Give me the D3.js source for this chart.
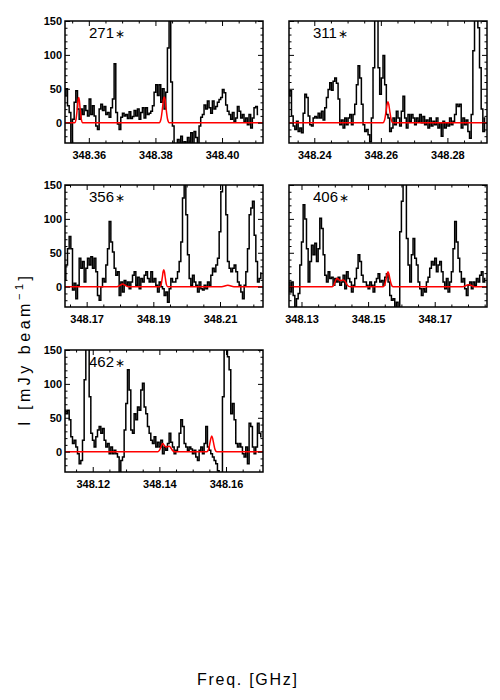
<!DOCTYPE html>
<html><head><meta charset="utf-8">
<script src="https://cdn.jsdelivr.net/npm/d3@7"></script>
<style>body{margin:0;background:#fff}svg{display:block}</style>
</head><body><svg id="c" width="500" height="700"></svg>
<script>
// ---------------- DATA ----------------
const sources = ["271", "311", "356", "406", "462"];
const chanWidth = 0.0005; // GHz per channel
const firstChan = [348.35285, 348.2324, 348.1635, 348.12625, 348.11168];
const xDomains = [
  [348.35285, 348.4123], [348.2324, 348.2919], [348.1635, 348.2229],
  [348.12625, 348.1857], [348.11168, 348.1711]
];
const xTickLabels = [
  [348.36, 348.38, 348.40], [348.24, 348.26, 348.28], [348.17, 348.19, 348.21],
  [348.13, 348.15, 348.17], [348.12, 348.14, 348.16]
];
const yDomain = [-30, 150];
const yTickValues = [0, 50, 100, 150];

const flux271 = [40,50,25,15,-35,5,30,47,20,5,20,12,25,18,10,35,12,25,10,-5,-10,20,27,18,24,12,15,8,22,35,87,15,-2,-10,8,14,10,12,6,16,6,9,18,10,20,5,15,22,7,22,12,14,17,25,45,56,40,56,30,50,20,45,110,160,60,-5,-40,-40,-25,-35,-20,-40,-28,-40,-22,-32,-15,-40,-13,-22,-40,-5,8,12,26,20,32,22,14,32,20,24,30,34,37,49,44,26,17,12,5,15,2,7,24,17,7,12,2,7,-3,12,-8,7,22,24,12];
const flux311 = [40,47,10,-5,-10,2,-13,-8,-15,14,42,37,10,-3,-5,7,9,7,14,7,17,4,22,37,49,59,48,61,66,58,35,-3,4,-8,7,-3,7,12,-3,12,27,56,84,66,27,-3,-13,-10,-18,-28,7,81,165,160,81,42,66,99,56,12,7,-13,-8,7,-3,17,7,-5,17,39,7,-8,12,2,12,7,-3,7,2,12,0,9,-3,4,-8,7,-5,2,-3,7,-8,0,-20,2,-8,0,-5,7,-3,2,12,27,24,27,-8,7,-3,4,-13,-23,12,106,165,165,140,81,20,-13,7];
const flux356 = [10,32,56,74,56,-5,5,-18,2,42,27,37,7,27,42,32,44,27,42,22,-13,-20,0,12,7,32,56,96,66,51,27,17,22,-13,7,-8,9,2,7,-3,7,17,22,2,14,-3,12,7,17,22,12,7,22,7,12,2,-8,7,0,-3,-13,-8,-23,-3,12,7,7,12,22,37,66,131,170,106,47,12,2,17,7,2,-8,7,-3,-5,2,-3,7,2,17,27,22,32,42,81,140,170,170,106,37,27,22,27,32,22,7,2,-8,-18,2,22,56,106,116,126,76,37,7,12,20];
const flux406 = [7,-8,7,-13,-30,-18,-10,32,66,121,100,56,7,37,61,47,64,37,56,101,86,47,17,7,22,12,14,2,12,7,14,2,7,17,-3,22,12,7,-8,2,12,27,47,37,17,7,7,2,-3,7,2,-8,7,12,19,7,9,2,14,19,7,-13,-20,-18,-35,-23,-35,81,126,170,170,71,32,7,47,71,42,32,7,-3,-13,-3,-8,7,14,27,37,32,42,22,32,37,22,7,-3,12,-8,7,22,56,96,66,42,22,7,12,-3,-13,2,7,-3,7,2,12,7,17,22,7,12];
const flux462 = [61,56,61,47,22,12,17,7,-3,-18,-13,17,106,170,170,81,27,17,7,22,32,37,27,34,17,7,12,-3,7,-3,2,-3,-8,-35,-13,-8,32,71,121,91,32,27,56,47,66,61,91,101,66,56,37,27,17,12,22,7,14,7,17,-3,7,2,12,27,14,7,-3,2,7,27,47,37,12,7,2,7,4,-3,2,-8,-13,2,7,-3,12,37,7,2,-3,-8,-13,-18,-28,-35,-35,81,160,170,140,121,56,71,47,12,7,12,7,-3,-8,7,-18,42,37,7,-3,7,42,27,22];

// Gaussian-fit model (red), read as [freq, mJy/beam] points
const model271 = [[348.35576,0],[348.35616,5],[348.35656,22],[348.35676,33],[348.35696,37],[348.35716,33],[348.35736,22],[348.35776,5],[348.35816,0],
  [348.38115,0],[348.38165,5],[348.38215,23],[348.3824,34],[348.38265,38],[348.3829,34],[348.38315,23],[348.38365,5],[348.38415,0]];
const model311 = [[348.26063,0],[348.26113,4],[348.26163,19],[348.26188,27],[348.26213,31],[348.26238,27],[348.26263,19],[348.26313,4],[348.26363,0]];
const model356 = [[348.1790,0],[348.1802,2.5],[348.1808,4],[348.1814,2.5],[348.1826,0],
  [348.19193,0],[348.19233,3],[348.19273,15],[348.19293,22],[348.19313,25],[348.19333,22],[348.19353,15],[348.19393,3],[348.19433,0],
  [348.2105,0],[348.21235,2],[348.2142,0]];
const model406 = [[348.1392,0],[348.1397,2],[348.14016,8],[348.14066,12.5],[348.14116,10.5],[348.14166,9],[348.14217,9.5],[348.14267,10],[348.14317,7.5],[348.14367,3],[348.14417,0.5],[348.1447,0],
  [348.15448,0],[348.15498,3],[348.15548,13],[348.15573,19],[348.15598,22],[348.15623,19],[348.15648,13],[348.15698,3],[348.15748,0],
  [348.1784,0],[348.1796,2],[348.1802,3],[348.1808,2],[348.182,0]];
const model462 = [[348.13951,0],[348.14001,2],[348.14051,7.5],[348.14101,12],[348.14151,9],[348.14201,7],[348.14251,7.5],[348.14301,8],[348.14351,5],[348.14401,1.5],[348.14451,0],
  [348.15422,0],[348.15472,3],[348.15522,14],[348.15547,20],[348.15572,23],[348.15597,20],[348.15622,14],[348.15672,3],[348.15722,0]];

const fluxes = [flux271, flux311, flux356, flux406, flux462];
const models = [model271, model311, model356, model406, model462];

// ---------------- LAYOUT ----------------
const boxes = [{x:65,y:21},{x:289,y:21},{x:65,y:185},{x:289,y:185},{x:65,y:350}];
const W = 198, H = 122;
const FONT = "'Liberation Sans', Arial, Helvetica, sans-serif";
const svg = d3.select("#c");

sources.forEach((src, p) => {
  const b = boxes[p];
  const g = svg.append("g").attr("transform", `translate(${b.x},${b.y})`);
  const x = d3.scaleLinear().domain(xDomains[p]).range([0, W]);
  const y = d3.scaleLinear().domain(yDomain).range([H, 0]);

  const clipId = "clip" + p;
  g.append("clipPath").attr("id", clipId).append("rect").attr("width", W).attr("height", H);

  const pts = fluxes[p].map((v, i) => [firstChan[p] + i * chanWidth, v]);
  g.append("path").attr("clip-path", `url(#${clipId})`)
    .attr("d", d3.line().x(d => x(d[0])).y(d => y(d[1])).curve(d3.curveStep)(pts))
    .attr("fill", "none").attr("stroke", "#000").attr("stroke-width", 1.5);

  const mp = [[xDomains[p][0], 0], ...models[p], [xDomains[p][1], 0]];
  g.append("path").attr("clip-path", `url(#${clipId})`)
    .attr("d", d3.line().x(d => x(d[0])).y(d => y(d[1])).curve(d3.curveMonotoneX)(mp))
    .attr("fill", "none").attr("stroke", "#ff0000").attr("stroke-width", 1.5);

  // minor ticks
  const d0 = xDomains[p][0], d1 = xDomains[p][1];
  const xMinor = d3.range(Math.ceil(d0 / 0.005), Math.floor(d1 / 0.005) + 1).map(k => k * 0.005)
    .filter(v => !xTickLabels[p].some(t => Math.abs(t - v) < 1e-6));
  const yMinor = d3.range(-20, 151, 10).filter(v => !yTickValues.includes(v));

  const styleAxis = sel => { sel.select(".domain").remove(); sel.selectAll("line").attr("stroke", "#000").attr("stroke-width", 1); };

  g.append("g").attr("transform", `translate(0,${H})`)
    .call(d3.axisBottom(x).tickValues(xTickLabels[p]).tickSize(-5).tickPadding(8).tickFormat(d3.format(".2f")))
    .call(styleAxis)
    .call(s => s.selectAll("text").attr("font-family", FONT).attr("font-size", 11).attr("font-weight", "bold").attr("fill", "#000"));
  g.append("g").attr("transform", `translate(0,${H})`).call(d3.axisBottom(x).tickValues(xMinor).tickSize(-2.5).tickFormat("")).call(styleAxis);
  g.append("g").call(d3.axisTop(x).tickValues(xTickLabels[p]).tickSize(-5).tickFormat("")).call(styleAxis);
  g.append("g").call(d3.axisTop(x).tickValues(xMinor).tickSize(-2.5).tickFormat("")).call(styleAxis);

  const left = d3.axisLeft(y).tickValues(yTickValues).tickSize(-5).tickPadding(3);
  if (p % 2 === 1 ) left.tickFormat("");
  g.append("g").call(left).call(styleAxis)
    .call(s => s.selectAll("text").attr("font-family", FONT).attr("font-size", 11).attr("font-weight", "bold").attr("fill", "#000"));
  g.append("g").call(d3.axisLeft(y).tickValues(yMinor).tickSize(-2.5).tickFormat("")).call(styleAxis);
  g.append("g").attr("transform", `translate(${W},0)`).call(d3.axisRight(y).tickValues(yTickValues).tickSize(-5).tickFormat("")).call(styleAxis);
  g.append("g").attr("transform", `translate(${W},0)`).call(d3.axisRight(y).tickValues(yMinor).tickSize(-2.5).tickFormat("")).call(styleAxis);

  g.append("rect").attr("width", W).attr("height", H).attr("fill", "none").attr("stroke", "#000").attr("stroke-width", 1.5);

  const t = g.append("text").attr("x", 24).attr("y", 17).attr("font-family", FONT).attr("font-size", 15).attr("fill", "#000");
  t.append("tspan").text(src);
  t.append("tspan").attr("font-size", 12).attr("dx", 1).text("∗");
});

// axis titles
const yl = svg.append("text").attr("transform", "translate(30,351) rotate(-90)")
  .attr("text-anchor", "middle").attr("font-family", FONT).attr("font-size", 16).attr("fill", "#000")
  .attr("textLength", 150).attr("lengthAdjust", "spacing");
yl.append("tspan").text("I [mJy beam");
yl.append("tspan").attr("font-size", 11).attr("dy", -7).text("−1");
yl.append("tspan").attr("dy", 7).text("]");

svg.append("text").attr("x", 247).attr("y", 685).attr("text-anchor", "middle")
  .attr("font-family", FONT).attr("font-size", 16).attr("fill", "#000")
  .attr("textLength", 100).attr("lengthAdjust", "spacing").text("Freq. [GHz]");
</script></body></html>
